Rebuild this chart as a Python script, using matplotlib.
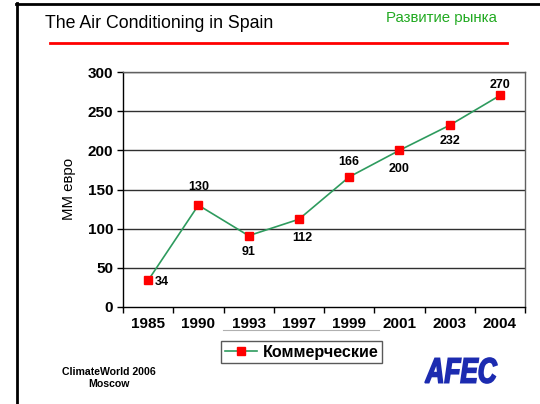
import matplotlib
matplotlib.use("Agg")
import matplotlib.pyplot as plt
from matplotlib.lines import Line2D
from matplotlib.textpath import TextPath
from matplotlib.font_manager import FontProperties
from matplotlib.patches import PathPatch
from matplotlib.transforms import Affine2D, IdentityTransform
import numpy as np

plt.rcParams['font.family'] = ['Liberation Sans', 'DejaVu Sans']

years = ['1985', '1990', '1993', '1997', '1999', '2001', '2003', '2004']
values = [34, 130, 91, 112, 166, 200, 232, 270]
label_pos = ['right', 'above', 'below', 'below', 'above', 'below', 'below', 'above']
series_name = 'Коммерческие'
y_ticks = [0, 50, 100, 150, 200, 250, 300]

# label offsets in pixels (dx, dy to label centre) -- styling only
label_offsets = [(14, -2), (0, 18), (0, -16), (3, -19), (0, 15), (0, -19), (0, -16), (0, 11)]

W, H = 540, 404
fig = plt.figure(figsize=(W / 100, H / 100), dpi=100)

def fx(px):
    return px / W

def fy(py):
    return 1 - py / H

ax = fig.add_axes([fx(123), fy(307), fx(525) - fx(123), fy(72) - fy(307)])
x = np.arange(len(years))
ax.set_xlim(-0.5, len(years) - 0.5)
ax.set_ylim(0, 300)
for v in y_ticks[1:]:
    ax.axhline(v, color='#303030', lw=1.0, zorder=1)
ax.plot(x, values, color='#2e9b5e', lw=1.2, marker='s', markersize=5.5,
        markerfacecolor='#ff0000', markeredgecolor='#ff0000', zorder=3,
        label=series_name)
for xi, v, (dx, dy) in zip(x, values, label_offsets):
    ax.annotate(str(v), (xi, v), xytext=(dx * 0.72, dy * 0.72), textcoords='offset points',
                ha='center', va='center', fontsize=9, fontweight='bold')

ax.set_yticks(y_ticks)
ax.set_yticklabels([str(t) for t in y_ticks], fontsize=11, fontweight='bold')
ax.set_xticks(x)
ax.set_xticklabels(years, fontsize=11, fontweight='bold')
ax.set_xticks(np.arange(-0.5, len(years)), minor=True)
ax.tick_params(axis='x', which='major', length=0, pad=7)
ax.tick_params(axis='x', which='minor', length=4, width=1, color='black', direction='out')
ax.tick_params(axis='y', length=4, width=1, direction='out', pad=3)
for s in ['left', 'bottom']:
    ax.spines[s].set_color('black')
    ax.spines[s].set_linewidth(1.0)
for s in ['right', 'top']:
    ax.spines[s].set_color('#606060')
    ax.spines[s].set_linewidth(1.0)
fig.text(fx(69), fy(189), 'ММ евро', rotation=90, ha='center', va='center', fontsize=10.8)

leg = fig.legend(loc='center', bbox_to_anchor=(fx(301.5), fy(352)),
                 prop={'weight': 'bold', 'size': 11.6}, frameon=True, fancybox=False,
                 edgecolor='#303030', borderpad=0.22, handlelength=2.0,
                 handletextpad=0.35, borderaxespad=0)
leg.get_frame().set_linewidth(1.0)

fig.add_artist(Line2D([fx(223), fx(379)], [fy(330), fy(330)], color='#b0b0b0', lw=0.8))

# frame
fig.add_artist(Line2D([fx(17), fx(17)], [fy(3), 0], color='black', lw=2))
fig.add_artist(Line2D([fx(16), 1], [fy(4), fy(4)], color='black', lw=2))

fig.text(fx(45), fy(23), 'The Air Conditioning in Spain', fontsize=12.8, ha='left', va='center')
fig.text(fx(441), fy(18), 'Развитие рынка', fontsize=10.8, color='#22aa22', ha='center', va='center')
fig.add_artist(Line2D([fx(50), fx(507)], [fy(43), fy(43)], color='#ff0000', lw=2))

fig.text(fx(109), fy(378), 'ClimateWorld 2006\nMoscow', fontsize=7.6, fontweight='bold',
         ha='center', va='center', linespacing=1.35)

# AFEC logo as scaled text path
tp = TextPath((0, 0), 'AFEC', size=10,
              prop=FontProperties(family='Liberation Sans', weight='bold', style='italic'))
bb = tp.get_extents()
x0, x1, yt, yb = 425, 497, 358, 383
sx = (x1 - x0) / bb.width
sy = (yb - yt) / bb.height
tr = Affine2D().translate(-bb.x0, -bb.y0).scale(sx, sy).translate(x0, H - yb)
patch = PathPatch(tr.transform_path(tp), facecolor='#1c2bb0', edgecolor='#1c2bb0',
                  lw=1.2, transform=IdentityTransform())
fig.add_artist(patch)

fig.savefig('out.png', dpi=100)
